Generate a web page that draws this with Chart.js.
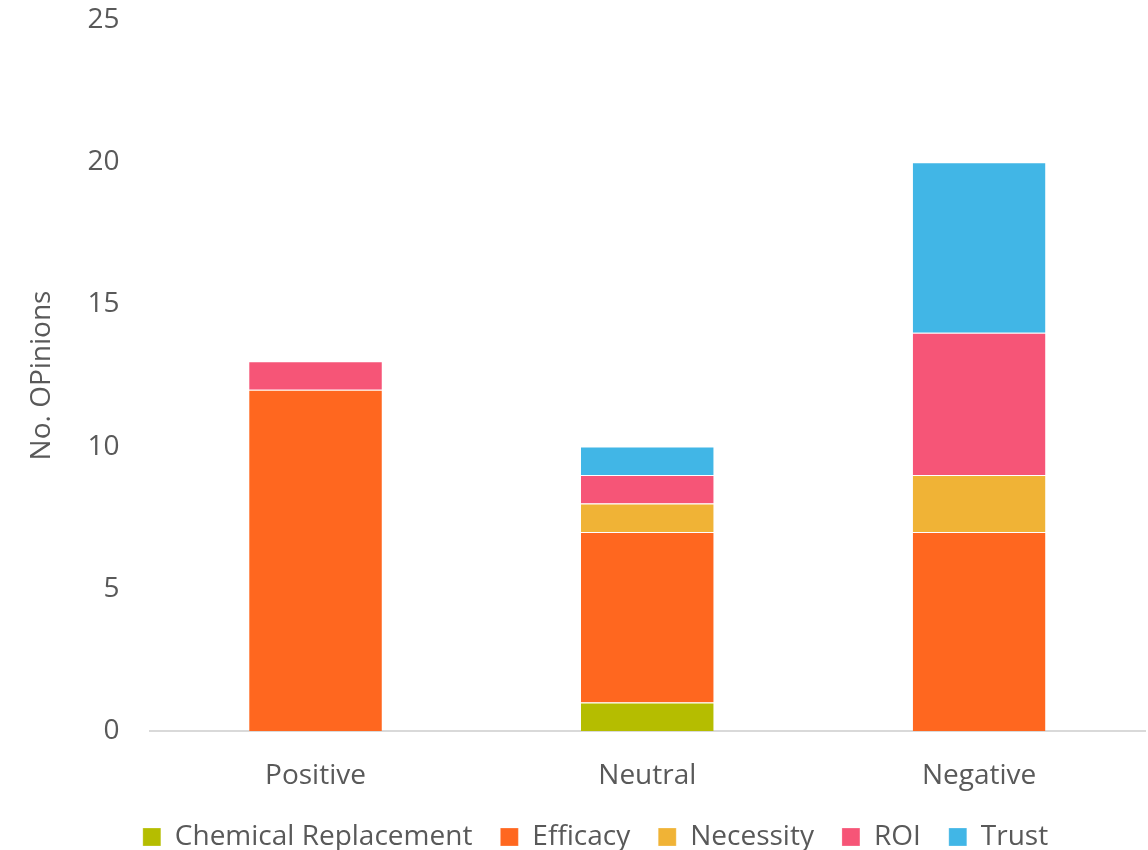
<!DOCTYPE html>
<html>
<head>
<meta charset="utf-8">
<script src="https://cdn.jsdelivr.net/npm/chart.js@4/dist/chart.umd.min.js"></script>
<style>
  html, body { margin: 0; padding: 0; background: #fff; }
  #wrap { width: 1148px; height: 850px; position: relative; }
</style>
</head>
<body>
<div id="wrap"><canvas id="c"></canvas></div>
<script>
// Opinion categories and counts per theme
const categories = ['Positive', 'Neutral', 'Negative'];
const chemicalReplacement = [0, 1, 0];
const efficacy = [12, 6, 7];
const necessity = [0, 1, 2];
const roi = [1, 1, 5];
const trust = [0, 1, 6];
const yTicks = [0, 5, 10, 15, 20, 25];

const seriesNames = ['Chemical Replacement', 'Efficacy', 'Necessity', 'ROI', 'Trust'];
const seriesValues = [chemicalReplacement, efficacy, necessity, roi, trust];
const seriesColors = ['#B5BD00', '#FF671F', '#F0B336', '#F65577', '#41B6E6'];

const FONT = '"Open Sans", "DejaVu Sans", sans-serif';
const TEXT = '#595959';

// Nudge the legend row a little to the right of the centre line
const legendShift = {
  id: 'legendShift',
  afterLayout(chart) {
    if (chart.legend) chart.legend.left += 28;
  }
};

new Chart(document.getElementById('c'), {
  type: 'bar',
  data: {
    labels: categories,
    datasets: seriesNames.map((name, i) => ({
      label: name,
      data: seriesValues[i],
      backgroundColor: seriesColors[i],
      borderColor: '#ffffff',
      borderWidth: { top: 1, bottom: 0, left: 0, right: 0 },
      borderSkipped: false,
      categoryPercentage: 1.0,
      barPercentage: 0.4
    }))
  },
  plugins: [legendShift],
  options: {
    responsive: true,
    maintainAspectRatio: false,
    animation: false,
    layout: { padding: { top: 20, right: 3, bottom: -11, left: 18 } },
    plugins: {
      tooltip: { enabled: false },
      legend: {
        position: 'bottom',
        labels: {
          font: { family: FONT, size: 28 },
          color: TEXT,
          boxWidth: 18,
          boxHeight: 18,
          padding: 28,
          useBorderRadius: false
        }
      }
    },
    scales: {
      x: {
        stacked: true,
        grid: { display: false, drawTicks: false },
        border: { display: true, color: '#D9D9D9', width: 2 },
        ticks: { font: { family: FONT, size: 28 }, color: TEXT, padding: 28 },
        afterFit(axis) { axis.height = 64; }
      },
      y: {
        stacked: true,
        min: 0,
        max: 25,
        afterBuildTicks: (axis) => { axis.ticks = yTicks.map(v => ({ value: v })); },
        afterFit(axis) { axis.paddingTop = 0; axis.paddingBottom = 0; },
        grid: { display: false, drawTicks: false },
        border: { display: false },
        ticks: { font: { family: FONT, size: 28 }, color: TEXT, padding: 30 },
        title: {
          display: true,
          text: 'No. OPinions',
          font: { family: FONT, size: 28 },
          color: TEXT,
          padding: { top: 7, bottom: -1 }
        }
      }
    }
  }
});
</script>
</body>
</html>
